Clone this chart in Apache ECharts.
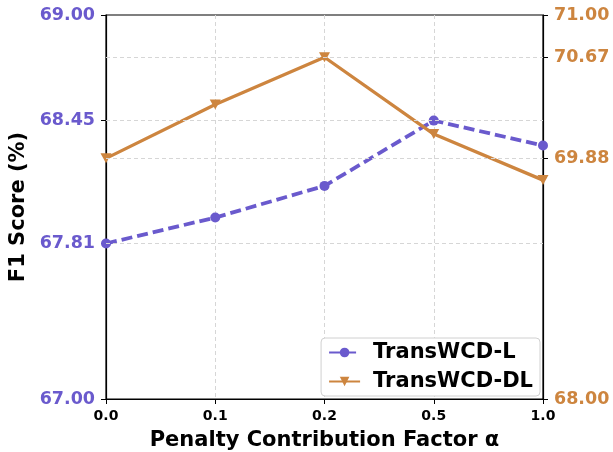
<!DOCTYPE html>
<html><head><meta charset="utf-8">
<script src="https://cdn.jsdelivr.net/npm/echarts@6/dist/echarts.min.js"></script>
<style>html,body{margin:0;padding:0;background:#fff}#c{width:613px;height:452px}</style>
</head><body><div id="c"></div>
<script>
const categories = ['0.0', '0.1', '0.2', '0.5', '1.0'];
const seriesL = [67.81, 67.945, 68.11, 68.45, 68.32];
const seriesDL = [69.88, 70.30, 70.67, 70.07, 69.71];
const leftTicks = [67.00, 67.81, 68.45, 69.00];
const rightTicks = [68.00, 69.88, 70.67, 71.00];
const purple = '#6a5acd';
const orange = '#cd853f';
const font = 'DejaVu Sans';

const chart = echarts.init(document.getElementById('c'));
const gridLine = { color: '#d6d6d6', type: [4, 3], width: 1 };
chart.setOption({
  animation: false,
  grid: { left: 106, right: 70, top: 15, bottom: 53, show: true, borderColor: '#000', borderWidth: 1.2, containLabel: false, outerBoundsMode: 'none' },
  legend: {
    right: 73, bottom: 56, orient: 'vertical',
    backgroundColor: '#fff', borderColor: '#d0d0d0', borderWidth: 1, borderRadius: 4,
    padding: [4, 7, 4, 7], itemGap: 8, itemWidth: 31, itemHeight: 12,
    textStyle: { fontFamily: font, fontWeight: 'bold', fontSize: 21, color: '#000', padding: [0, 0, 0, 8] },
    data: ['TransWCD-L', 'TransWCD-DL']
  },
  xAxis: {
    type: 'category', data: categories, boundaryGap: false,
    name: 'Penalty Contribution Factor α', nameLocation: 'middle', nameGap: 31,
    nameTextStyle: { fontFamily: font, fontWeight: 'bold', fontSize: 21, color: '#000' },
    axisLine: { lineStyle: { color: '#000', width: 1.2 } },
    axisTick: { alignWithLabel: true, length: 5, lineStyle: { color: '#000' } },
    axisLabel: { fontFamily: font, fontWeight: 'bold', fontSize: 14, color: '#000', margin: 10 },
    splitLine: { show: true, lineStyle: gridLine }
  },
  yAxis: [
    {
      type: 'value', min: 67, max: 69, position: 'left',
      name: 'F1 Score (%)', nameLocation: 'middle', nameGap: 76,
      nameTextStyle: { fontFamily: font, fontWeight: 'bold', fontSize: 21, color: '#000' },
      axisLine: { show: true, lineStyle: { color: '#000', width: 1.2 } },
      axisTick: { show: true, length: 5, customValues: leftTicks, lineStyle: { color: '#000' } },
      axisLabel: { customValues: leftTicks, formatter: v => v.toFixed(2), fontFamily: font, fontWeight: 'bold', fontSize: 17.5, color: purple, margin: 11 },
      splitLine: { show: false }
    },
    {
      type: 'value', min: 68, max: 71, position: 'right',
      axisLine: { show: true, lineStyle: { color: '#000', width: 1.2 } },
      axisTick: { show: true, length: 5, customValues: rightTicks, lineStyle: { color: '#000' } },
      axisLabel: { customValues: rightTicks, formatter: v => v.toFixed(2), fontFamily: font, fontWeight: 'bold', fontSize: 17.5, color: orange, margin: 11 },
      splitLine: { show: false }
    }
  ],
  series: [
    {
      name: 'TransWCD-L', type: 'line', yAxisIndex: 0, data: seriesL,
      symbol: 'circle', symbolSize: 10, z: 3,
      lineStyle: { color: purple, width: 3.8, type: [11, 5] },
      itemStyle: { color: purple },
      markLine: {
        silent: true, symbol: 'none', label: { show: false }, lineStyle: gridLine,
        data: leftTicks.slice(1, 3).map(v => ({ yAxis: v }))
      }
    },
    {
      name: 'TransWCD-DL', type: 'line', yAxisIndex: 1, data: seriesDL,
      symbol: 'path://M0,0 L10,0 L5,9 Z', symbolSize: [11, 10], z: 3,
      lineStyle: { color: orange, width: 3.3 },
      itemStyle: { color: orange },
      markLine: {
        silent: true, symbol: 'none', label: { show: false }, lineStyle: gridLine,
        data: rightTicks.slice(1, 3).map(v => ({ yAxis: v }))
      }
    }
  ]
});
</script></body></html>
